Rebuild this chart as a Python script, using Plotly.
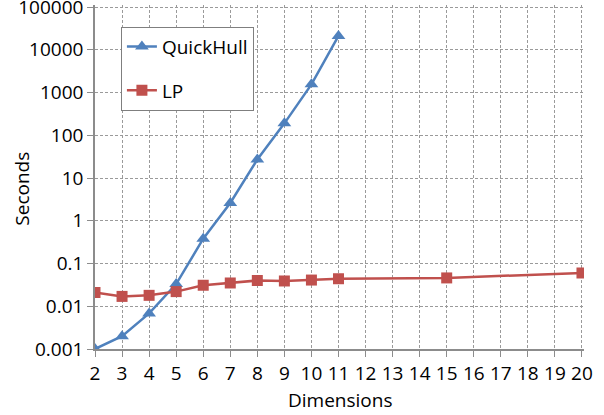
import plotly.graph_objects as go

qh_dims = [2, 3, 4, 5, 6, 7, 8, 9, 10, 11]
qh_secs = [0.001, 0.002, 0.0068, 0.033, 0.38, 2.6, 27, 190, 1550, 21000]

lp_dims = [2, 3, 4, 5, 6, 7, 8, 9, 10, 11, 15, 20]
lp_secs = [0.021, 0.017, 0.018, 0.022, 0.031, 0.035, 0.040, 0.039, 0.041, 0.044, 0.046, 0.060]

x_ticks = list(range(2, 21))
y_tickvals = [0.001, 0.01, 0.1, 1, 10, 100, 1000, 10000, 100000]
y_ticktext = ["0.001", "0.01", "0.1", "1", "10", "100", "1000", "10000", "100000"]

FONT = "Open Sans"
BLUE = "#4F81BD"
RED = "#C0504D"
GRID = "#9A9A9A"

fig = go.Figure()
fig.add_trace(go.Scatter(
    x=qh_dims, y=qh_secs, mode="lines+markers", name="QuickHull",
    line=dict(color=BLUE, width=2.5),
    marker=dict(symbol="triangle-up", size=12, color=BLUE),
    legendgroup="a",
))
fig.add_trace(go.Scatter(
    x=lp_dims, y=lp_secs, mode="lines+markers", name="LP",
    line=dict(color=RED, width=2.5),
    marker=dict(symbol="square", size=11, color=RED),
    legendgroup="b",
))

fig.update_layout(
    width=604, height=415,
    margin=dict(l=95, r=20, t=5, b=66),
    paper_bgcolor="white", plot_bgcolor="white",
    font=dict(family=FONT, size=19, color="black"),
    showlegend=True,
    legend=dict(
        x=0.053, y=0.937, xanchor="left", yanchor="top",
        bordercolor="#7F7F7F", borderwidth=1, bgcolor="white",
        font=dict(family=FONT, size=19),
        tracegroupgap=16,
        itemwidth=30,
    ),
    xaxis=dict(
        range=[2, 20.075], tickmode="array", tickvals=x_ticks,
        showgrid=True, gridcolor=GRID, griddash="3px,2px", gridwidth=1,
        showline=True, linecolor="#8C8C8C", linewidth=1.5,
        ticks="outside", ticklen=6, tickcolor="#8C8C8C",
        zeroline=False, automargin=False, ticklabeloverflow="allow",
        tickfont=dict(family=FONT, size=19),
    ),
    yaxis=dict(
        type="log", range=[-3, 5.047], tickmode="array",
        tickvals=y_tickvals, ticktext=y_ticktext,
        showgrid=True, gridcolor=GRID, griddash="3px,2px", gridwidth=1,
        showline=True, linecolor="#8C8C8C", linewidth=1.5,
        ticks="outside", ticklen=6, tickcolor="#8C8C8C",
        zeroline=False, automargin=False, ticklabeloverflow="allow",
        tickfont=dict(family=FONT, size=19),
    ),
    annotations=[
        dict(text="Dimensions", xref="paper", yref="paper", x=0.5, y=-0.148,
             xanchor="center", yanchor="middle", showarrow=False,
             font=dict(family=FONT, size=19)),
        dict(text="Seconds", xref="paper", yref="paper", x=-0.15, y=0.465,
             xanchor="center", yanchor="middle", showarrow=False, textangle=-90,
             font=dict(family=FONT, size=19)),
    ],
)

fig.write_html("out.html", config={"displayModeBar": False},
               post_script="document.body.style.margin='0';")
